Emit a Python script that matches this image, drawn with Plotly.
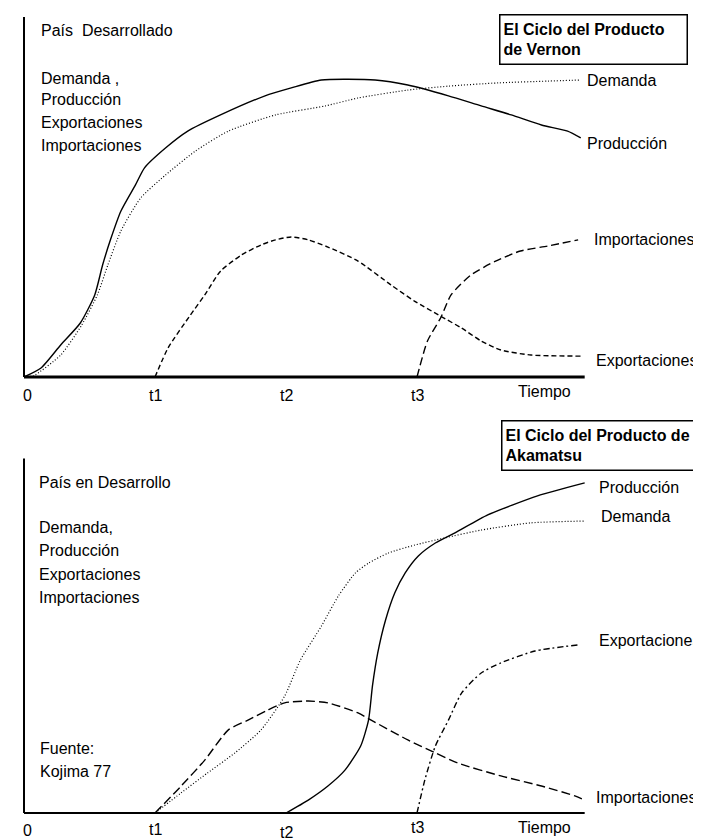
import plotly.graph_objects as go

# ---------------- data (time in units of t; y in arbitrary units) ----------------
# Top panel: País Desarrollado (Vernon)
v_prod_x = [0, 0.13, 0.28, 0.43, 0.54, 0.60, 0.66, 0.74, 0.85, 0.92, 1.08, 1.25, 1.50, 1.84, 2.04, 2.27, 2.68, 2.93, 3.24, 3.49, 3.72, 3.95, 4.15, 4.25]
v_prod_y = [0, 2.5, 8.9, 15.0, 22.8, 31.1, 38.1, 46.1, 53.3, 58.1, 63.6, 68.3, 72.8, 78.1, 80.3, 82.5, 82.5, 81.1, 78.1, 75.3, 72.8, 70.0, 68.3, 66.4]

v_dem_x = [0, 0.07, 0.28, 0.44, 0.56, 0.64, 0.74, 0.89, 1.08, 1.31, 1.56, 1.92, 2.30, 2.55, 2.93, 3.24, 3.62, 4.00, 4.25]
v_dem_y = [0, 0.3, 6.1, 14.4, 22.8, 31.1, 40.6, 49.7, 56.1, 62.8, 68.3, 72.8, 75.3, 77.5, 79.7, 80.8, 81.7, 82.2, 82.5]

v_exp_x = [1.0, 1.10, 1.27, 1.38, 1.50, 1.66, 1.81, 1.92, 2.04, 2.17, 2.32, 2.55, 2.80, 2.98, 3.18, 3.34, 3.49, 3.64, 3.87, 4.25]
v_exp_y = [0, 8.1, 17.2, 22.8, 29.4, 33.9, 36.7, 38.1, 38.9, 38.1, 36.1, 32.2, 25.6, 21.1, 16.9, 13.6, 10.0, 7.5, 6.1, 5.8]

v_imp_x = [3.0, 3.08, 3.18, 3.26, 3.41, 3.60, 3.79, 4.00, 4.23]
v_imp_y = [0, 10.0, 16.4, 22.8, 28.3, 32.2, 35.0, 36.4, 38.1]

# Bottom panel: País en Desarrollo (Akamatsu)
a_prod_x = [2.0, 2.17, 2.32, 2.45, 2.57, 2.63, 2.66, 2.70, 2.76, 2.83, 2.91, 3.01, 3.14, 3.29, 3.54, 3.92, 4.28]
a_prod_y = [0, 3.6, 7.5, 11.9, 18.6, 25.8, 35.3, 44.4, 53.6, 61.1, 66.7, 71.4, 75.0, 77.8, 82.8, 88.1, 91.7]

a_dem_x = [1.0, 1.20, 1.40, 1.61, 1.81, 1.99, 2.11, 2.27, 2.40, 2.53, 2.63, 2.78, 2.98, 3.21, 3.49, 3.87, 4.28]
a_dem_y = [0, 5.6, 11.1, 16.7, 23.1, 32.5, 42.5, 51.9, 60.3, 66.7, 69.4, 72.2, 74.4, 76.4, 78.6, 80.6, 81.1]

a_imp_x = [1.0, 1.20, 1.38, 1.56, 1.71, 1.86, 1.99, 2.17, 2.32, 2.55, 2.65, 2.93, 3.14, 3.31, 3.64, 3.95, 4.21, 4.28]
a_imp_y = [0, 7.5, 14.7, 23.1, 25.8, 28.6, 30.6, 31.1, 30.6, 27.8, 25.8, 20.3, 16.7, 13.9, 10.3, 7.5, 4.7, 3.6]

a_exp_x = [3.0, 3.06, 3.14, 3.24, 3.34, 3.49, 3.64, 3.90, 4.23]
a_exp_y = [0, 9.2, 18.6, 25.8, 33.3, 38.9, 41.7, 45.0, 46.7]

tick_vals = [0, 1, 2, 3]
tick_text = ["0", "t1", "t2", "t3"]
axis_end = 4.28
y_top = 100.0

# ---------------- layout geometry ----------------
W, H = 701, 840
PX_PER_T = 131.0
X0_PX = 16.0
PX_PER_Y = 3.6
BASE_TOP = 369.0
BASE_BOT = 805.0

x_range = [-X0_PX / PX_PER_T, (W - X0_PX) / PX_PER_T]
y1_range = [(BASE_TOP - H) / PX_PER_Y, BASE_TOP / PX_PER_Y]
y2_range = [(BASE_BOT - H) / PX_PER_Y, BASE_BOT / PX_PER_Y]

FONT = "Liberation Sans, Arial, sans-serif"
fig = go.Figure()

def add_line(x, y, yaxis, dash, width=1.3):
    fig.add_trace(go.Scatter(x=x, y=y, yaxis=yaxis, mode="lines",
                             line=dict(color="black", width=width, dash=dash, shape="spline", smoothing=0.6),
                             hoverinfo="skip", showlegend=False))

add_line(v_prod_x, v_prod_y, "y", "solid", 1.4)
add_line(v_dem_x, v_dem_y, "y", "1px,2px", 1.2)
add_line(v_exp_x, v_exp_y, "y", "5px,3px", 1.4)
add_line(v_imp_x, v_imp_y, "y", "8px,4px", 1.4)

add_line(a_prod_x, a_prod_y, "y2", "solid", 1.4)
add_line(a_dem_x, a_dem_y, "y2", "1px,2px", 1.2)
add_line(a_imp_x, a_imp_y, "y2", "9px,4px", 1.4)
add_line(a_exp_x, a_exp_y, "y2", "6px,3px,2px,3px", 1.4)

shapes = []
# axes lines
shapes.append(dict(type="line", xref="x", yref="y", x0=0, x1=axis_end, y0=0, y1=0, line=dict(color="black", width=3)))
shapes.append(dict(type="line", xref="x", yref="y", x0=0, x1=0, y0=0, y1=y_top, line=dict(color="black", width=2)))
shapes.append(dict(type="line", xref="x", yref="y2", x0=0, x1=axis_end, y0=0, y1=0, line=dict(color="black", width=2)))
shapes.append(dict(type="line", xref="x", yref="y2", x0=0, x1=0, y0=0, y1=98.5, line=dict(color="black", width=2)))

ann = []
def txt(x, y, text, yref="y", xanchor="left", size=16, xref="x"):
    ann.append(dict(x=x, y=y, xref=xref, yref=yref, text=text,
                    showarrow=False, xanchor=xanchor, yanchor="middle", align="left", borderpad=0,
                    font=dict(family=FONT, size=size, color="black")))

def py_top(p):
    return (BASE_TOP - p) / PX_PER_Y

def py_bot(p):
    return (BASE_BOT - p) / PX_PER_Y

def px(p):
    return (p - X0_PX) / PX_PER_T

# top panel texts
txt(px(32), py_top(22), "País&nbsp;&nbsp;Desarrollado")
txt(px(32), py_top(70), "Demanda ,")
txt(px(32), py_top(91), "Producción")
txt(px(32), py_top(114), "Exportaciones")
txt(px(32), py_top(137), "Importaciones")
txt(px(578), py_top(72), "Demanda")
txt(px(578), py_top(135), "Producción")
txt(px(585), py_top(231), "Importaciones")
txt(px(587), py_top(352), "Exportaciones")
for v, t in zip(tick_vals, tick_text):
    txt(v + (3 / PX_PER_T if v == 0 else 0), py_top(387), t, xanchor="center")
txt(px(536), py_top(383), "Tiempo", xanchor="center")

# bottom panel texts
txt(px(30), py_bot(474), "País en Desarrollo", yref="y2")
txt(px(30), py_bot(519), "Demanda,", yref="y2")
txt(px(30), py_bot(542), "Producción", yref="y2")
txt(px(30), py_bot(566), "Exportaciones", yref="y2")
txt(px(30), py_bot(589), "Importaciones", yref="y2")
txt(px(31), py_bot(740), "Fuente:", yref="y2")
txt(px(31), py_bot(763), "Kojima 77", yref="y2")
txt(px(590), py_bot(479), "Producción", yref="y2")
txt(px(592), py_bot(508), "Demanda", yref="y2")
txt(px(590), py_bot(632), "Exportaciones", yref="y2")
txt(px(587), py_bot(789), "Importaciones", yref="y2")
for v, t, yy in zip(tick_vals, tick_text, [822, 821, 824, 819]):
    txt(v + (3 / PX_PER_T if v == 0 else 0), py_bot(yy), t, yref="y2", xanchor="center")
txt(px(536), py_bot(819), "Tiempo", yref="y2", xanchor="center")

# title boxes
ann.append(dict(x=491 / W, y=1 - 6 / H, xref="paper", yref="paper", xanchor="left", yanchor="top",
                text="<b>El Ciclo del Producto<br>de Vernon</b>", showarrow=False, align="left",
                width=180, height=42, borderpad=3, bordercolor="black", borderwidth=1.5, bgcolor="white",
                font=dict(family=FONT, size=16, color="black")))
ann.append(dict(x=493 / W, y=1 - 412 / H, xref="paper", yref="paper", xanchor="left", yanchor="top",
                text="<b>El Ciclo del Producto de<br>Akamatsu</b>", showarrow=False, align="left",
                width=206, height=42, borderpad=3, bordercolor="black", borderwidth=1.5, bgcolor="white",
                font=dict(family=FONT, size=16, color="black")))

fig.update_layout(
    width=W, height=H, margin=dict(l=0, r=0, t=0, b=0),
    paper_bgcolor="white", plot_bgcolor="white", showlegend=False,
    xaxis=dict(range=x_range, visible=False, fixedrange=True, domain=[0, 1]),
    yaxis=dict(range=y1_range, visible=False, fixedrange=True, domain=[0, 1]),
    yaxis2=dict(range=y2_range, visible=False, fixedrange=True, overlaying="y", domain=[0, 1]),
    shapes=shapes, annotations=ann,
)

fig.write_html("out.html", config={"displayModeBar": False})
